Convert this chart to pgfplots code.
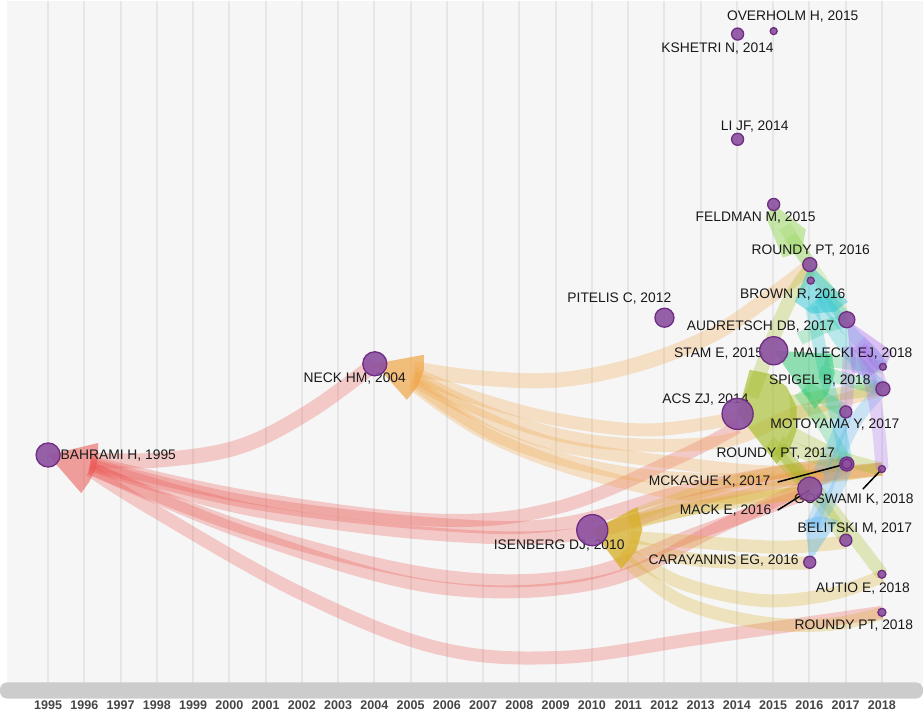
\documentclass[border=0pt]{standalone}
\usepackage{fontspec}
\setmainfont{Liberation Sans}
\usepackage{pgfplots}
\pgfplotsset{compat=1.18}
\definecolor{bgc}{RGB}{246,246,246}
\definecolor{gridc}{RGB}{230,230,230}
\definecolor{barc}{RGB}{204,204,204}
\definecolor{yrc}{RGB}{70,70,70}
\definecolor{labc}{RGB}{25,25,25}
\definecolor{nodep}{RGB}{140,80,160}
\definecolor{nodeb}{RGB}{110,45,130}
\definecolor{redc}{RGB}{235,85,80}
\definecolor{orc}{RGB}{240,165,70}
\definecolor{goldc}{RGB}{215,175,40}
\definecolor{olc}{RGB}{160,185,30}
\definecolor{grc}{RGB}{40,200,110}
\definecolor{lgc}{RGB}{150,215,90}
\definecolor{cyc}{RGB}{30,195,210}
\definecolor{bluc}{RGB}{90,180,240}
\definecolor{vic}{RGB}{175,110,240}
\tikzset{
  band/.style={line width=13pt, line cap=butt, draw opacity=0.28, smooth, tension=0.6},
  wedge/.style={draw=none, fill opacity=#1},
  lab/.style={font=\fontsize{13.8}{16}\selectfont, text=labc, inner sep=0pt},
  yr/.style={font=\fontsize{12.5}{14}\selectfont\bfseries, text=yrc, inner sep=0pt},
}
\begin{document}
\begin{tikzpicture}
\begin{axis}[
  scale only axis, width=923pt, height=718pt,
  xmin=0, xmax=923, ymin=0, ymax=718, y dir=reverse,
  axis lines=none, ticks=none, clip=false,
]
% background
\addplot[draw=none, fill=bgc] coordinates {(9,0) (923,0) (923,682) (9,682)} --cycle;
% grid lines
\pgfplotsinvokeforeach{50.00,86.17,122.35,158.52,194.70,230.87,267.04,303.22,339.39,375.57,411.74,447.91,484.09,520.26,556.43,592.61,628.78,664.96,701.13,737.30,773.48,809.65,845.83,882.00}{
  \addplot[gridc, line width=2pt] coordinates {(#1,0) (#1,682)};
}
% bottom bar
\fill[barc, rounded corners=7pt] (axis cs:2,680) rectangle (axis cs:923,696);
% years
\node[yr] at (axis cs:50.00,703) {1995};
\node[yr] at (axis cs:86.17,703) {1996};
\node[yr] at (axis cs:122.35,703) {1997};
\node[yr] at (axis cs:158.52,703) {1998};
\node[yr] at (axis cs:194.70,703) {1999};
\node[yr] at (axis cs:230.87,703) {2000};
\node[yr] at (axis cs:267.04,703) {2001};
\node[yr] at (axis cs:303.22,703) {2002};
\node[yr] at (axis cs:339.39,703) {2003};
\node[yr] at (axis cs:375.57,703) {2004};
\node[yr] at (axis cs:411.74,703) {2005};
\node[yr] at (axis cs:447.91,703) {2006};
\node[yr] at (axis cs:484.09,703) {2007};
\node[yr] at (axis cs:520.26,703) {2008};
\node[yr] at (axis cs:556.43,703) {2009};
\node[yr] at (axis cs:592.61,703) {2010};
\node[yr] at (axis cs:628.78,703) {2011};
\node[yr] at (axis cs:664.96,703) {2012};
\node[yr] at (axis cs:701.13,703) {2013};
\node[yr] at (axis cs:737.30,703) {2014};
\node[yr] at (axis cs:773.48,703) {2015};
\node[yr] at (axis cs:809.65,703) {2016};
\node[yr] at (axis cs:845.83,703) {2017};
\node[yr] at (axis cs:882.00,703) {2018};

% nodes (documents)
\addplot[scatter, only marks, mark=*,
  scatter/use mapped color={draw=nodeb, fill=nodep},
  visualization depends on={\thisrow{r}\as\noderad},
  scatter/@pre marker code/.append style={/tikz/mark size=\noderad},
  mark options={line width=1.3pt, fill opacity=0.9}]
table[x=x, y=y] {
x y r
50 453 12
376 362 12
593 528 15.5
738 412 15.5
665 316 9.5
774 349 14
738 138 6
738 33 6
774 30 3.5
774 203 6
810 263 7
811 279 3.5
847 318 8
883 365 3.5
883 387 7
846 410 6
847 462 7
847 462 5
810 487 12
882 467 3.5
846 538 6
810 560 6
882 572 4
882 610 4
};

% ---- citation bands ----
% to BAHRAMI H, 1995
\addplot[band, redc, line width=15pt] coordinates {(92,458) (160,458) (240,445) (310,410) (376,362)};
\addplot[band, redc] coordinates {(92,462) (250,500) (437,522) (560,522) (680,490) (780,470) (846,462)};
\addplot[band, redc] coordinates {(92,463) (250,507) (437,532) (580,532) (700,497) (800,476) (882,467)};
\addplot[band, redc] coordinates {(92,466) (250,527) (437,573) (580,573) (700,530) (810,490)};
\addplot[band, redc] coordinates {(92,460) (250,495) (437,518) (560,505) (680,455) (738,425)};
\addplot[band, redc] coordinates {(92,466) (250,532) (437,585) (600,580) (720,525) (846,465)};
\addplot[band, redc] coordinates {(92,468) (150,505) (300,590) (437,645) (560,655) (700,636) (882,610)};
% to NECK HM, 2004
\addplot[band, orc, line width=15pt] coordinates {(415,367) (480,376) (560,378) (640,362) (713,333) (770,295) (810,265)};
\addplot[band, orc] coordinates {(415,372) (480,397) (560,418) (650,428) (738,416)};
\addplot[band, orc] coordinates {(415,378) (480,413) (560,443) (693,463) (780,470) (846,463)};
\addplot[band, orc] coordinates {(415,383) (480,428) (560,462) (660,488) (740,495) (810,490)};
\addplot[band, orc] coordinates {(415,375) (500,415) (600,440) (720,440) (800,410) (882,388)};
\addplot[band, orc] coordinates {(415,380) (500,435) (620,470) (760,478) (882,467)};
% to ISENBERG DJ, 2010
\addplot[band, goldc] coordinates {(630,515) (700,490) (780,470) (846,462)};
\addplot[band, goldc] coordinates {(630,522) (700,505) (810,490)};
\addplot[band, goldc] coordinates {(630,535) (700,540) (780,545) (846,540)};
\addplot[band, goldc] coordinates {(630,542) (700,558) (810,561)};
\addplot[band, goldc] coordinates {(625,548) (680,580) (760,598) (830,592) (882,574)};
\addplot[band, goldc] coordinates {(620,552) (680,598) (760,620) (830,622) (882,611)};
\addplot[band, goldc] coordinates {(630,520) (720,500) (800,480) (882,467)};
% to ACS ZJ, 2014
\addplot[band, olc, line width=14pt] coordinates {(752,395) (770,345) (790,298) (810,268)};
\addplot[band, olc] coordinates {(770,440) (810,480) (850,530) (882,572)};
\addplot[band, olc] coordinates {(780,440) (815,455) (846,462)};
\addplot[band, olc] coordinates {(790,412) (846,410)};
\addplot[band, olc] coordinates {(790,400) (840,392) (882,387)};
\addplot[band, olc] coordinates {(780,445) (810,485)};
\addplot[band, olc] coordinates {(775,450) (820,500) (846,538)};
\addplot[band, olc] coordinates {(790,430) (840,455) (882,467)};
% to STAM E, 2015
\addplot[band, grc] coordinates {(820,370) (855,380) (882,387)};
\addplot[band, grc] coordinates {(825,358) (855,362) (882,365)};
\addplot[band, grc] coordinates {(805,385) (830,400) (846,410)};
\addplot[band, grc] coordinates {(800,390) (825,425) (846,460)};
\addplot[band, grc] coordinates {(800,337) (825,325) (846,319)};
% to FELDMAN M, 2015
\addplot[band, lgc] coordinates {(785,225) (798,245) (810,262)};
\addplot[band, lgc] coordinates {(790,235) (815,270) (835,300) (846,318)};
% to ROUNDY PT, 2016 / BROWN R, 2016
\addplot[band, cyc] coordinates {(820,290) (835,305) (846,318)};
\addplot[band, cyc] coordinates {(820,295) (850,330) (872,352) (882,365)};
\addplot[band, cyc] coordinates {(815,300) (845,345) (868,372) (882,387)};
\addplot[band, cyc] coordinates {(812,305) (825,370) (838,420) (846,458)};
% to CARAYANNIS EG / MACK E, 2016
\addplot[band, bluc] coordinates {(812,525) (825,490) (845,440) (862,410) (882,388)};
\addplot[band, bluc] coordinates {(820,470) (835,440) (846,412)};
\addplot[band, bluc] coordinates {(815,525) (835,490) (846,465)};
% to AUDRETSCH DB, 2017
\addplot[band, vic] coordinates {(860,340) (872,352) (882,365)};
\addplot[band, vic] coordinates {(860,345) (875,368) (882,387)};
\addplot[band, vic] coordinates {(862,345) (875,400) (880,440) (882,467)};
\addplot[band, vic] coordinates {(850,345) (848,380) (846,405)};

% ---- arrow heads (wedges) ----
\addplot[wedge=0.55, fill=redc] coordinates {(50,453) (100,441) (100,455) (97,468) (91,480) (83,491)} --cycle;
\addplot[wedge=0.7, fill=orc] coordinates {(376,362) (425,353) (425,368) (419,384) (408,398)} --cycle;
\addplot[wedge=0.75, fill=goldc] coordinates {(593,528) (638,505) (643,527) (637,548) (622,567)} --cycle;
\addplot[wedge=0.6, fill=olc] coordinates {(738,412) (750,368) (770,372) (787,385) (797,405) (797,428) (790,447) (777,462)} --cycle;
\addplot[wedge=0.5, fill=grc] coordinates {(774,349) (832,352) (835,372) (828,392) (815,407)} --cycle;
\addplot[wedge=0.5, fill=lgc] coordinates {(774,203) (766,215) (783,256) (802,250) (806,228)} --cycle;
\addplot[wedge=0.45, fill=cyc] coordinates {(810,263) (795,300) (812,312) (835,310) (848,300)} --cycle;
\addplot[wedge=0.4, fill=vic] coordinates {(847,318) (852,370) (868,375) (885,365) (893,350)} --cycle;
\addplot[wedge=0.4, fill=bluc] coordinates {(810,560) (805,518) (820,514) (838,518)} --cycle;

% leader lines
\addplot[black, line width=1.5pt] coordinates {(778,480) (846,462)};
\addplot[black, line width=1.5pt] coordinates {(778,508) (810,488)};
\addplot[black, line width=1.5pt] coordinates {(863,487) (882,467)};

% ---- labels ----
\node[lab] at (axis cs:793,16) {OVERHOLM H, 2015};
\node[lab] at (axis cs:718,47) {KSHETRI N, 2014};
\node[lab] at (axis cs:755,125) {LI JF, 2014};
\node[lab] at (axis cs:756,216) {FELDMAN M, 2015};
\node[lab] at (axis cs:811,249) {ROUNDY PT, 2016};
\node[lab] at (axis cs:793,293) {BROWN R, 2016};
\node[lab] at (axis cs:620,297) {PITELIS C, 2012};
\node[lab] at (axis cs:761,325) {AUDRETSCH DB, 2017};
\node[lab] at (axis cs:719,352) {STAM E, 2015};
\node[lab] at (axis cs:853,352) {MALECKI EJ, 2018};
\node[lab] at (axis cs:820,379) {SPIGEL B, 2018};
\node[lab] at (axis cs:706,398) {ACS ZJ, 2014};
\node[lab] at (axis cs:835,423) {MOTOYAMA Y, 2017};
\node[lab] at (axis cs:776,452) {ROUNDY PT, 2017};
\node[lab] at (axis cs:710,480) {MCKAGUE K, 2017};
\node[lab] at (axis cs:726,508) {MACK E, 2016};
\node[lab] at (axis cs:854,497) {GOSWAMI K, 2018};
\node[lab] at (axis cs:855,526) {BELITSKI M, 2017};
\node[lab] at (axis cs:724,558) {CARAYANNIS EG, 2016};
\node[lab] at (axis cs:863,586) {AUTIO E, 2018};
\node[lab] at (axis cs:854,623) {ROUNDY PT, 2018};
\node[lab] at (axis cs:356,377) {NECK HM, 2004};
\node[lab] at (axis cs:120,454) {BAHRAMI H, 1995};
\node[lab] at (axis cs:560,543) {ISENBERG DJ, 2010};
\end{axis}
\end{tikzpicture}
\end{document}
